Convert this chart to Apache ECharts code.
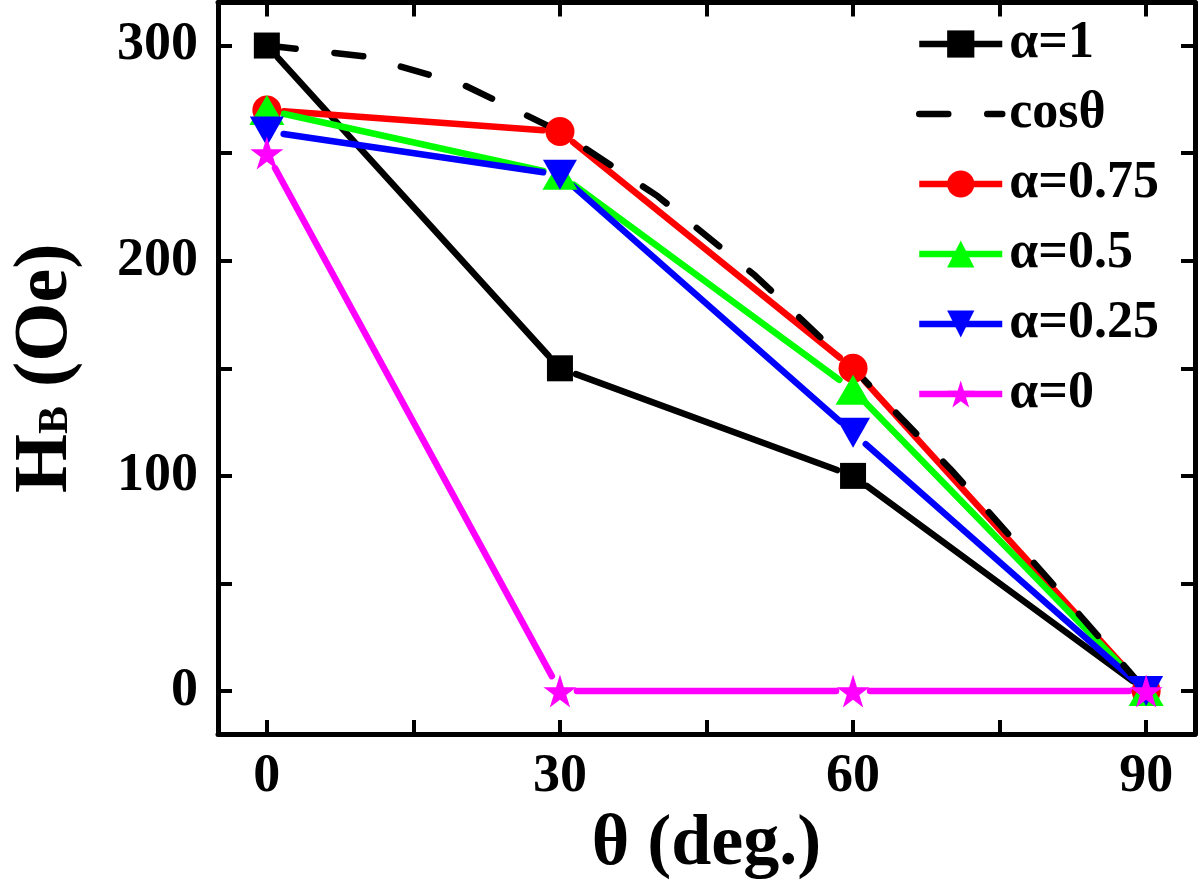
<!DOCTYPE html>
<html><head><meta charset="utf-8">
<script src="https://cdn.jsdelivr.net/npm/echarts@6/dist/echarts.min.js"></script>
<style>html,body{margin:0;padding:0;background:#fff}#c{width:1200px;height:886px}</style>
</head><body><div id="c"></div>
<script>
const angles = [0, 30, 60, 90];
const alpha1 = [300, 150, 100, 0];
const alpha075 = [270, 260, 150, 0];
const alpha05 = [270, 240, 140, 0];
const alpha025 = [260, 240, 120, 0];
const alpha0 = [250, 0, 0, 0];
// dashed cos curve, every 10 degrees
const cosAngles = [0, 10, 20, 30, 40, 50, 60, 70, 80, 90];
const cosValues = [300, 295, 282, 260, 230, 193, 150, 103, 52, 0];
const seriesNames = ['α=1', 'cosθ', 'α=0.75', 'α=0.5', 'α=0.25', 'α=0'];
const xTicks = [0, 15, 30, 45, 60, 75, 90];
const xLabels = [0, 30, 60, 90];
const yTicks = [0, 50, 100, 150, 200, 250, 300];
const yLabels = [0, 100, 200, 300];

const FONT = "'Liberation Serif', 'Times New Roman', serif";
const STAR = 'path://M50,0 L61.8,35.4 L100,35.4 L69.1,57.3 L80.9,92.7 L50,70.8 L19.1,92.7 L30.9,57.3 L0,35.4 L38.2,35.4 Z';
const LW = 6.5;
const GAP = 17;
const DASH = [29, 39];

function segments(xs, ys) {
  const out = [];
  for (let i = 0; i < xs.length - 1; i++) out.push([xs[i], ys[i], xs[i + 1], ys[i + 1]]);
  return out;
}

// line segments drawn with a small gap at each marker
function segSeries(ys, color) {
  return {
    type: 'custom', name: '_seg' + color, silent: true, animation: false,
    data: segments(angles, ys),
    encode: { x: [0, 2], y: [1, 3] },
    renderItem: function (params, api) {
      const p1 = api.coord([api.value(0), api.value(1)]);
      const p2 = api.coord([api.value(2), api.value(3)]);
      const dx = p2[0] - p1[0], dy = p2[1] - p1[1];
      const L = Math.sqrt(dx * dx + dy * dy);
      if (L <= 2 * GAP) return null;
      const ux = dx / L, uy = dy / L;
      return {
        type: 'line',
        shape: { x1: p1[0] + ux * GAP, y1: p1[1] + uy * GAP, x2: p2[0] - ux * GAP, y2: p2[1] - uy * GAP },
        style: { stroke: color, lineWidth: LW, lineCap: 'round' }
      };
    }
  };
}

function markSeries(name, ys, color, symbol, size, extra) {
  return Object.assign({
    name: name, type: 'line', data: angles.map((a, i) => [a, ys[i]]),
    symbol: symbol, symbolSize: size,
    lineStyle: { color: color, width: LW, opacity: 0 },
    itemStyle: { color: color },
    emphasis: { disabled: true }, animation: false
  }, extra || {});
}

const axisCommon = {
  axisLine: { show: true, onZero: false, lineStyle: { color: '#000', width: 5 } },
  splitLine: { show: false }
};
const tickStyle = { color: '#000', width: 4 };

const option = {
  backgroundColor: '#fff',
  animation: false,
  grid: { left: 215, right: 5, top: 2.5, bottom: 151.5 },
  xAxis: [
    Object.assign({}, axisCommon, {
      type: 'value', min: -5, max: 95, position: 'bottom',
      axisTick: { show: true, inside: true, length: 14, customValues: xTicks, lineStyle: tickStyle },
      axisLabel: { show: true, customValues: xLabels, margin: 16, color: '#000', fontFamily: FONT, fontWeight: 'bold', fontSize: 54 },
      name: 'θ (deg.)', nameLocation: 'middle', nameGap: 70,
      nameTextStyle: { color: '#000', fontFamily: FONT, fontWeight: 'bold', fontSize: 72 }
    }),
    Object.assign({}, axisCommon, {
      type: 'value', min: -5, max: 95, position: 'top',
      axisTick: { show: true, inside: true, length: 14, customValues: xTicks, lineStyle: tickStyle },
      axisLabel: { show: false }
    })
  ],
  yAxis: [
    Object.assign({}, axisCommon, {
      type: 'value', min: -20, max: 320, position: 'left',
      axisTick: { show: true, inside: true, length: 14, customValues: yTicks, lineStyle: tickStyle },
      axisLabel: { show: true, customValues: yLabels, margin: 20, color: '#000', fontFamily: FONT, fontWeight: 'bold', fontSize: 54 },
      name: '{h|H}{b|B}{h| (Oe)}', nameLocation: 'middle', nameGap: 134,
      nameTextStyle: {
        color: '#000', fontFamily: FONT, fontWeight: 'bold', fontSize: 76,
        rich: {
          h: { fontFamily: FONT, fontWeight: 'bold', fontSize: 76, color: '#000' },
          b: { fontFamily: FONT, fontWeight: 'bold', fontSize: 42, color: '#000', verticalAlign: 'bottom', padding: [0, 0, 7, 0] }
        }
      }
    }),
    Object.assign({}, axisCommon, {
      type: 'value', min: -20, max: 320, position: 'right',
      axisTick: { show: true, inside: true, length: 14, customValues: yTicks, lineStyle: tickStyle },
      axisLabel: { show: false }
    })
  ],
  legend: {
    orient: 'vertical', left: 911, top: 13,
    itemWidth: 83, itemHeight: 34, itemGap: 18,
    textStyle: { color: '#000', fontFamily: FONT, fontWeight: 'bold', fontSize: 52, padding: [0, 0, 0, 2] },
    data: [
      { name: seriesNames[0], lineStyle: { opacity: 1, width: LW, color: '#000000' } },
      { name: seriesNames[1], itemStyle: { opacity: 0 }, lineStyle: { opacity: 1, width: LW, color: '#000000', type: DASH, cap: 'round' } },
      { name: seriesNames[2], lineStyle: { opacity: 1, width: LW, color: '#ff0000' } },
      { name: seriesNames[3], lineStyle: { opacity: 1, width: LW, color: '#00ff00' } },
      { name: seriesNames[4], lineStyle: { opacity: 1, width: LW, color: '#0000ff' } },
      { name: seriesNames[5], lineStyle: { opacity: 1, width: LW, color: '#ff00ff' } }
    ],
    selectedMode: false
  },
  series: [
    segSeries(alpha1, '#000000'),
    markSeries(seriesNames[0], alpha1, '#000000', 'rect', 26),
    {
      name: seriesNames[1], type: 'line', data: cosAngles.map((a, i) => [a, cosValues[i]]),
      symbol: 'none', showSymbol: false,
      lineStyle: { color: '#000', width: LW, type: DASH, cap: 'round' },
      itemStyle: { color: '#000' },
      emphasis: { disabled: true }, animation: false
    },
    segSeries(alpha075, '#ff0000'),
    markSeries(seriesNames[2], alpha075, '#ff0000', 'circle', 29),
    segSeries(alpha05, '#00ff00'),
    markSeries(seriesNames[3], alpha05, '#00ff00', 'triangle', [35, 30]),
    segSeries(alpha025, '#0000ff'),
    markSeries(seriesNames[4], alpha025, '#0000ff', 'triangle', [34, 30], { symbolRotate: 180 }),
    segSeries(alpha0, '#ff00ff'),
    markSeries(seriesNames[5], alpha0, '#ff00ff', STAR, 33)
  ]
};

const chart = echarts.init(document.getElementById('c'), null, { renderer: 'canvas' });
chart.setOption(option);
</script></body></html>
